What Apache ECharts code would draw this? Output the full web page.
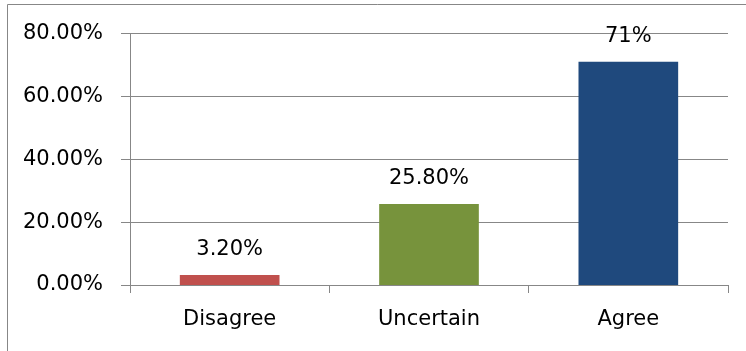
<!DOCTYPE html>
<html>
<head>
<meta charset="utf-8">
<script src="https://cdn.jsdelivr.net/npm/echarts@6/dist/echarts.min.js"></script>
<style>
  html, body { margin: 0; padding: 0; background: #fff; }
  #chart { width: 746px; height: 351px; }
</style>
</head>
<body>
<div id="chart"></div>
<script>
// Survey responses (share of respondents)
const categories = ['Disagree', 'Uncertain', 'Agree'];
const shares = [0.032, 0.258, 0.71];
const shareLabels = ['3.20%', '25.80%', '71%'];
const barColors = ['#C0504D', '#77933C', '#1F497D'];
const yTicks = { min: 0, max: 0.8, interval: 0.2 };

const FONT = '"DejaVu Sans"';
const FONT_SIZE = 21;
const GRAY = '#878787';

const chart = echarts.init(document.getElementById('chart'), null, { renderer: 'canvas' });

chart.setOption({
  animation: false,
  backgroundColor: '#ffffff',
  textStyle: { fontFamily: FONT },
  graphic: [{
    type: 'rect',
    shape: { x: 7.5, y: 4.5, width: 800, height: 400 },
    style: { fill: 'none', stroke: GRAY, lineWidth: 1 },
    silent: true
  }],
  grid: { left: 130, right: 18, top: 33.5, bottom: 66 },
  xAxis: {
    type: 'category',
    data: categories,
    axisLine: { lineStyle: { color: GRAY, width: 1 } },
    axisTick: { show: true, length: 8, lineStyle: { color: GRAY } },
    axisLabel: { color: '#000', fontSize: FONT_SIZE, fontFamily: FONT, margin: 24 }
  },
  yAxis: {
    type: 'value',
    min: yTicks.min,
    max: yTicks.max,
    interval: yTicks.interval,
    axisLine: { show: true, lineStyle: { color: GRAY, width: 1 } },
    axisTick: { show: true, length: 9, lineStyle: { color: GRAY } },
    splitLine: { show: true, lineStyle: { color: GRAY, width: 1 } },
    axisLabel: {
      color: '#000', fontSize: FONT_SIZE, fontFamily: FONT, margin: 27,
      formatter: v => (v * 100).toFixed(2) + '%'
    }
  },
  series: [{
    type: 'bar',
    barWidth: '50%',
    data: shares.map((v, i) => ({ value: v, itemStyle: { color: barColors[i] } })),
    label: {
      show: true,
      position: 'top',
      distance: 15,
      color: '#000',
      fontSize: FONT_SIZE,
      fontFamily: FONT,
      formatter: p => shareLabels[p.dataIndex]
    }
  }]
});
</script>
</body>
</html>
